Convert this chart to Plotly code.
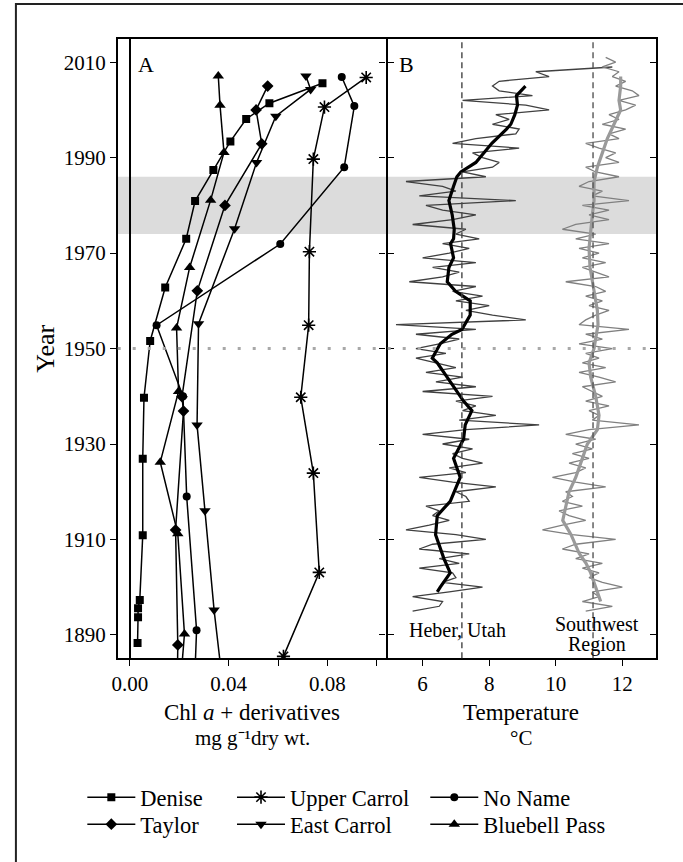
import plotly.graph_objects as go

# ---------------- Panel A data (Chl a + derivatives, mg g-1 dry wt.) ----------------
denise_year = [2005.6, 2001.4, 1998.1, 1993.4, 1987.4, 1980.9, 1973.0, 1962.8, 1951.6, 1939.7, 1926.9, 1910.9, 1897.3, 1895.6, 1893.7, 1888.3]
denise_chl = [0.0780, 0.0565, 0.0471, 0.0407, 0.0338, 0.0264, 0.0228, 0.0143, 0.0082, 0.0057, 0.0052, 0.0052, 0.0040, 0.0033, 0.0033, 0.0031]

taylor_year = [2005.0, 2000.0, 1992.9, 1980.0, 1962.1, 1939.9, 1936.9, 1912.0, 1887.9, 1880.0]
taylor_chl = [0.0558, 0.0511, 0.0534, 0.0385, 0.0273, 0.0211, 0.0217, 0.0185, 0.0194, 0.0192]

upper_year = [2006.8, 2000.6, 1989.7, 1970.3, 1954.9, 1939.8, 1923.9, 1903.1, 1885.5]
upper_chl = [0.0957, 0.0788, 0.0743, 0.0727, 0.0724, 0.0692, 0.0743, 0.0767, 0.0622]

east_year = [2007.1, 2004.3, 1998.7, 1989.0, 1975.1, 1955.2, 1934.0, 1916.0, 1895.2, 1880.0]
east_chl = [0.0713, 0.0732, 0.0591, 0.0513, 0.0424, 0.0278, 0.0272, 0.0304, 0.0341, 0.0375]

noname_year = [2006.9, 2000.8, 1988.0, 1971.9, 1954.9, 1940.0, 1919.0, 1891.0, 1880.0]
noname_chl = [0.0858, 0.0909, 0.0868, 0.0609, 0.0108, 0.0215, 0.0230, 0.0270, 0.0262]

bluebell_year = [2007.1, 2001.0, 1991.1, 1981.1, 1967.0, 1954.3, 1941.0, 1926.2, 1911.2, 1890.2, 1880.0]
bluebell_chl = [0.0358, 0.0365, 0.0381, 0.0327, 0.0242, 0.0189, 0.0197, 0.0123, 0.0194, 0.0221, 0.0205]

# ---------------- Panel B data (Temperature, degC) ----------------
heber_years = list(range(2009, 1894, -1))
heber_annual = [
    11.7, 9.4, 9.8, 8.3, 8.1, 8.3, 9.3, 7.2, 9.1, 9.8,
    8.2, 8.6, 8.1, 8.9, 8.8, 7.6, 6.9, 8.9, 7.5, 7.8,
    8.3, 8.1, 7.2, 7.9, 5.5, 6.6, 7.0, 5.9, 8.8, 6.1,
    6.6, 7.6, 6.9, 5.7, 7.3, 7.0, 7.7, 6.6, 7.4, 6.8,
    6.0, 7.6, 6.3, 7.1, 6.6, 5.6, 7.6, 6.9, 7.8, 7.0,
    8.0, 7.3, 8.1, 9.1, 5.2, 7.6, 5.8, 7.1, 6.5, 5.8,
    6.7, 5.8, 6.4, 7.0, 6.1, 7.2, 6.4, 7.6, 6.0, 8.1,
    7.0, 7.6, 7.2, 8.2, 7.1, 9.5, 7.3, 6.0, 7.4, 6.6,
    7.5, 6.9, 7.2, 7.8, 6.8, 7.3, 5.9, 6.9, 8.2, 7.0,
    7.3, 7.4, 6.1, 6.5, 6.3, 6.8, 6.2, 5.5, 7.0, 7.9,
    6.3, 5.9, 7.4, 6.5, 7.1, 5.9, 6.9, 7.0, 6.6, 7.8,
    6.8, 5.7, 6.6, 6.5, 5.7,
]

sw_years = list(range(2011, 1894, -1))
sw_annual = [
    11.5, 11.8, 11.4, 11.9, 11.7, 12.1, 11.8, 12.3, 12.5, 11.9,
    12.4, 12.1, 11.6, 11.9, 11.4, 12.1, 11.6, 11.9, 10.9, 11.3,
    11.8, 11.5, 11.9, 10.9, 11.2, 11.9, 11.0, 10.7, 11.4, 11.1,
    12.2, 10.8, 11.6, 11.0, 11.6, 10.6, 10.2, 11.2, 10.6, 11.6,
    10.7, 11.3, 10.8, 11.5, 10.8, 11.2, 11.6, 10.3, 11.2, 11.5,
    10.9, 11.4, 11.0, 11.6, 11.2, 10.9, 10.7, 12.2, 10.9, 11.4,
    10.7, 11.7, 10.9, 11.3, 10.8, 11.5, 10.7, 11.3, 11.8, 10.8,
    11.1, 11.4, 10.9, 11.6, 11.0, 11.3, 11.1, 12.5, 11.0, 10.3,
    11.2, 10.6, 11.1, 10.5, 11.0, 10.4, 10.9, 10.6, 9.9, 10.6,
    11.5, 10.3, 10.5, 10.2, 10.8, 10.1, 10.4, 10.9, 10.2, 9.6,
    10.5, 11.8, 10.6, 10.2, 11.0, 10.6, 11.4, 10.8, 11.3, 11.0,
    11.4, 12.0, 11.1, 11.3, 10.8, 11.7, 10.9,
]

heber_smooth_year = [2005, 2004, 2003, 2001, 1999, 1997, 1996, 1993, 1991, 1989, 1987, 1986, 1984, 1981, 1978, 1975, 1973, 1972, 1969, 1967, 1964, 1962, 1960, 1957, 1954, 1953, 1951, 1948, 1947, 1944, 1941, 1939, 1937, 1934, 1931, 1929, 1927, 1923, 1918, 1915, 1911, 1906, 1903, 1900, 1899]
heber_smooth = [9.09, 8.95, 8.82, 8.85, 8.77, 8.65, 8.52, 8.08, 7.85, 7.60, 7.15, 7.03, 6.93, 6.79, 6.89, 6.95, 6.93, 6.84, 6.93, 6.79, 6.74, 6.99, 7.43, 7.43, 7.18, 6.88, 6.53, 6.29, 6.44, 6.74, 7.03, 7.23, 7.48, 7.28, 7.23, 7.08, 6.93, 7.13, 6.83, 6.44, 6.39, 6.64, 6.83, 6.53, 6.44]

sw_smooth_year = [2007, 2005, 2002, 2000, 1997, 1994, 1991, 1988, 1985, 1981, 1978, 1974, 1971, 1967, 1962, 1958, 1955, 1950, 1947, 1944, 1940, 1936, 1933, 1930, 1926, 1923, 1920, 1916, 1914, 1911, 1907, 1905, 1903, 1900, 1898, 1897]
sw_smooth = [11.95, 11.95, 11.90, 11.95, 11.75, 11.55, 11.40, 11.25, 11.15, 11.15, 11.10, 11.05, 11.00, 11.03, 11.15, 11.25, 11.27, 11.15, 11.00, 11.05, 11.20, 11.30, 11.25, 10.95, 10.75, 10.60, 10.40, 10.26, 10.21, 10.46, 10.71, 10.91, 11.05, 11.20, 11.30, 11.35]

heber_mean = 7.18
sw_mean = 11.12
band_years = [1974, 1986]
ref_year = 1950

year_ticks = [1890, 1910, 1930, 1950, 1970, 1990, 2010]
chl_ticks = [0.0, 0.04, 0.08]
chl_ticktext = ["0.00", "0.04", "0.08"]
chl_minor_ticks = [0.06, 0.10]
temp_ticks = [6, 8, 10, 12]

# ---------------- Figure ----------------
W, H = 683, 862
FONT = '"Liberation Serif", "Times New Roman", Times, serif'
px = lambda v: v / W
py = lambda v: 1 - v / H

xA = [px(112.7), px(383.3)]
xB = [px(383.3), px(655.7)]
yD = [py(658.3), py(39.3)]
yrange = [1885.1, 2014.8]

fig = go.Figure()

line_kw = dict(color="black", width=1.5)
series = [
    ("Denise", denise_chl, denise_year, "square", 8, "legend"),
    ("Taylor", taylor_chl, taylor_year, "diamond", 9, "legend2"),
    ("Upper Carrol", upper_chl, upper_year, "asterisk-open", 11, "legend3"),
    ("East Carrol", east_chl, east_year, "triangle-down", 10, "legend4"),
    ("No Name", noname_chl, noname_year, "circle", 8, "legend5"),
    ("Bluebell Pass", bluebell_chl, bluebell_year, "triangle-up", 10, "legend6"),
]
for name, xs, ys, sym, size, lg in series:
    fig.add_trace(go.Scatter(
        x=xs, y=ys, mode="lines+markers", name=name, legend=lg,
        line=line_kw,
        marker=dict(symbol=sym, size=size, color="black",
                    line=dict(color="black", width=1.6 if "asterisk" in sym else 0)),
        xaxis="x", yaxis="y",
    ))

# Panel B traces
fig.add_trace(go.Scatter(x=heber_annual, y=heber_years, mode="lines", showlegend=False,
                         line=dict(color="#404040", width=1.3), xaxis="x2", yaxis="y2"))
fig.add_trace(go.Scatter(x=sw_annual, y=sw_years, mode="lines", showlegend=False,
                         line=dict(color="#808080", width=1.3), xaxis="x2", yaxis="y2"))
fig.add_trace(go.Scatter(x=heber_smooth, y=heber_smooth_year, mode="lines", showlegend=False,
                         line=dict(color="black", width=3.2), xaxis="x2", yaxis="y2"))
fig.add_trace(go.Scatter(x=sw_smooth, y=sw_smooth_year, mode="lines", showlegend=False,
                         line=dict(color="#9a9a9a", width=3.2), xaxis="x2", yaxis="y2"))
fig.add_trace(go.Scatter(x=[None], y=[None], showlegend=False, xaxis="x2", yaxis="y3"))

tick_common = dict(tickcolor="black", tickwidth=1.3, ticklen=6,
                   tickfont=dict(family=FONT, size=21, color="black"))
line_common = dict(showline=True, linecolor="black", linewidth=1.5)

fig.update_layout(
    width=W, height=H, margin=dict(l=0, r=0, t=0, b=0),
    paper_bgcolor="white", plot_bgcolor="white",
    font=dict(family=FONT, color="black"),
    xaxis=dict(domain=xA, range=[-0.00494, 0.1037], tickmode="array", tickvals=chl_ticks,
               ticktext=chl_ticktext, ticks="outside", mirror=True, anchor="y",
               minor=dict(tickmode="array", tickvals=chl_minor_ticks, ticks="outside",
                          ticklen=6, tickwidth=1.3, tickcolor="black", showgrid=False),
               showgrid=False, zeroline=True, zerolinecolor="black", zerolinewidth=1.5,
               **line_common, **tick_common),
    yaxis=dict(domain=yD, range=yrange, tickmode="array", tickvals=year_ticks,
               ticks="outside", mirror="ticks", anchor="x", zeroline=False, showgrid=False,
               **line_common, **tick_common),
    xaxis2=dict(domain=xB, range=[4.898, 13.01], tickmode="array", tickvals=temp_ticks,
                ticks="outside", mirror=True, anchor="y2", zeroline=False, showgrid=False,
                **line_common, **tick_common),
    yaxis2=dict(domain=yD, range=yrange, tickmode="array", tickvals=year_ticks,
                ticks="outside", showline=False, anchor="x2", showticklabels=False,
                zeroline=False, showgrid=False, **tick_common),
    yaxis3=dict(domain=yD, range=yrange, tickmode="array", tickvals=year_ticks,
                ticks="inside", overlaying="y2", side="right", anchor="x2",
                showticklabels=False, showgrid=False, zeroline=False,
                **line_common, **tick_common),
)

legend_common = dict(font=dict(family=FONT, size=22.5, color="black"), bgcolor="rgba(0,0,0,0)",
                     orientation="v", yanchor="top", xanchor="left", itemwidth=48)
leg_x = [77, 77, 228, 228, 423, 423]
leg_y = [776, 803, 776, 803, 776, 803]
fig.update_layout(**{
    ("legend" if i == 0 else f"legend{i + 1}"): dict(x=px(leg_x[i]), y=py(leg_y[i]), **legend_common)
    for i in range(6)
})

shapes = [
    dict(type="rect", xref="paper", yref="y", x0=xA[0], x1=xB[1], y0=band_years[0], y1=band_years[1],
         fillcolor="#dcdcdc", line=dict(width=0), layer="below"),
    dict(type="line", xref="paper", yref="y", x0=xA[0], x1=xB[1], y0=ref_year, y1=ref_year,
         line=dict(color="#a8a8a8", width=3, dash="3px,12px"), layer="above"),
    dict(type="line", xref="x2", yref="y2 domain", x0=heber_mean, x1=heber_mean, y0=0, y1=1,
         line=dict(color="#444444", width=1.4, dash="6px,4px"), layer="above"),
    dict(type="line", xref="x2", yref="y2 domain", x0=sw_mean, x1=sw_mean, y0=0, y1=1,
         line=dict(color="#555555", width=1.4, dash="6px,4px"), layer="above"),
    dict(type="rect", xref="paper", yref="paper", x0=px(10), x1=1.05, y0=-0.05, y1=py(4),
         line=dict(color="#222222", width=2), fillcolor="rgba(0,0,0,0)"),
]
fig.update_layout(shapes=shapes)

ann_font = lambda s: dict(family=FONT, size=s, color="black")
annotations = [
    dict(text="Year", x=px(40), y=py(349), textangle=-90, font=ann_font(26)),
    dict(text="A", x=px(132), y=py(64), xanchor="left", font=ann_font(22)),
    dict(text="B", x=px(395), y=py(64), xanchor="left", font=ann_font(22)),
    dict(text="Chl <i>a</i> + derivatives", x=px(248.5), y=py(712), font=ann_font(23)),
    dict(text="mg g\u207b\u00b9dry wt.", x=px(248.5), y=py(738), font=ann_font(21)),
    dict(text="Temperature", x=px(519.5), y=py(712), font=ann_font(23)),
    dict(text="\u00b0C", x=px(519.5), y=py(738), font=ann_font(21)),
    dict(text="Heber, Utah", x=px(455), y=py(630), font=ann_font(20)),
    dict(text="Southwest", x=px(596), y=py(624), font=ann_font(20)),
    dict(text="Region", x=px(596), y=py(644), font=ann_font(20)),
]
for a in annotations:
    a.update(xref="paper", yref="paper", showarrow=False, yanchor="middle", borderpad=0,
             xanchor=a.get("xanchor", "center"))
fig.update_layout(annotations=annotations)

fig.write_html("out.html")
